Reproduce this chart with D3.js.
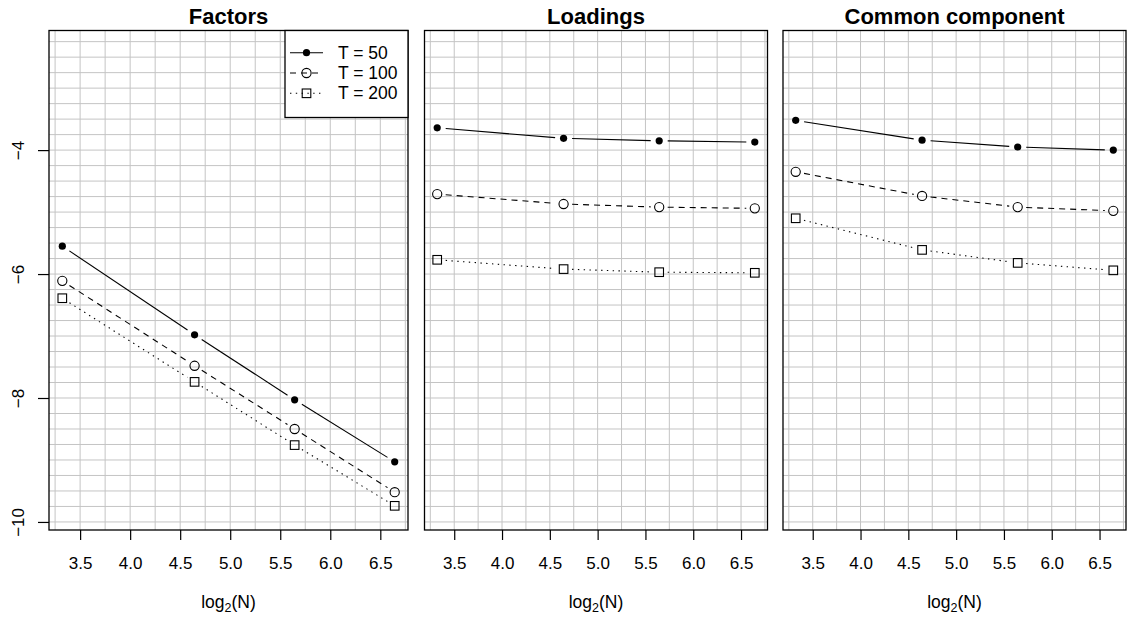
<!DOCTYPE html>
<html>
<head>
<meta charset="utf-8">
<script src="https://cdn.jsdelivr.net/npm/d3@7"></script>
<style>
  html, body { margin: 0; padding: 0; background: #fff; }
  svg { display: block; font-family: "Liberation Sans", Arial, Helvetica, sans-serif; }
</style>
</head>
<body>
<svg id="chart" width="1127" height="618"></svg>
<script>
// ---------------- data ----------------
const nValues = [10, 25, 50, 100];               // N (x = log2 N)
const seriesLabels = ["T = 50", "T = 100", "T = 200"];
const panelTitles = ["Factors", "Loadings", "Common component"];

// Factors panel (log error)
const factorsT50  = [-5.55, -6.98, -8.03, -9.03];
const factorsT100 = [-6.11, -7.48, -8.50, -9.52];
const factorsT200 = [-6.39, -7.74, -8.76, -9.74];
// Loadings panel
const loadingsT50  = [-3.64, -3.81, -3.85, -3.87];
const loadingsT100 = [-4.71, -4.87, -4.92, -4.94];
const loadingsT200 = [-5.77, -5.92, -5.97, -5.98];
// Common component panel
const commonT50  = [-3.52, -3.84, -3.95, -4.00];
const commonT100 = [-4.35, -4.74, -4.92, -4.98];
const commonT200 = [-5.10, -5.61, -5.82, -5.94];

const xTicks = [3.5, 4.0, 4.5, 5.0, 5.5, 6.0, 6.5];
const yTicks = [-4, -6, -8, -10];

// ---------------- layout ----------------
const svg = d3.select("#chart");
const panels = [
  { x0: 49,    x1: 408,   series: [factorsT50, factorsT100, factorsT200], yAxis: true, legend: true },
  { x0: 424.5, x1: 767.5, series: [loadingsT50, loadingsT100, loadingsT200] },
  { x0: 783,   x1: 1126,  series: [commonT50, commonT100, commonT200] }
];
const plotTop = 30.5, plotBottom = 530;
const xVals = nValues.map(n => Math.log2(n));
const xPad = (d3.max(xVals) - d3.min(xVals)) * 0.04;
const xDomain = [d3.min(xVals) - xPad, d3.max(xVals) + xPad];
const yDomain = [-10.13, -2.07];
const y = d3.scaleLinear().domain(yDomain).range([plotBottom, plotTop]);

const styles = [
  { dash: null,      marker: "dot" },
  { dash: "6,5",     marker: "circle" },
  { dash: "1.4,4.4", marker: "square" }
];
const gridColor = "#c4c4c4";
const fontMain = 17;

function drawMarker(g, type, cx, cy) {
  if (type === "dot") {
    g.append("circle").attr("cx", cx).attr("cy", cy).attr("r", 3.6).attr("fill", "#000");
  } else if (type === "circle") {
    g.append("circle").attr("cx", cx).attr("cy", cy).attr("r", 4.6)
      .attr("fill", "none").attr("stroke", "#000").attr("stroke-width", 1.1);
  } else {
    g.append("rect").attr("x", cx - 4.3).attr("y", cy - 4.3).attr("width", 8.6).attr("height", 8.6)
      .attr("fill", "none").attr("stroke", "#000").attr("stroke-width", 1.1);
  }
}

panels.forEach((p, pi) => {
  const x = d3.scaleLinear().domain(xDomain).range([p.x0, p.x1]);
  const g = svg.append("g");

  // grid (every 0.25 units)
  const gx = d3.range(Math.ceil(xDomain[0] * 4) / 4, xDomain[1], 0.25);
  const gy = d3.range(Math.ceil(yDomain[0] * 4) / 4, yDomain[1], 0.25);
  g.selectAll(".gv").data(gx).enter().append("line")
    .attr("x1", d => x(d)).attr("x2", d => x(d)).attr("y1", plotTop).attr("y2", plotBottom)
    .attr("stroke", gridColor).attr("stroke-width", 1);
  g.selectAll(".gh").data(gy).enter().append("line")
    .attr("x1", p.x0).attr("x2", p.x1).attr("y1", d => y(d)).attr("y2", d => y(d))
    .attr("stroke", gridColor).attr("stroke-width", 1);

  // series (type "b": lines with gaps around points)
  const gap = 8.5;
  p.series.forEach((vals, si) => {
    const st = styles[si];
    const pts = vals.map((v, i) => [x(xVals[i]), y(v)]);
    for (let i = 0; i < pts.length - 1; i++) {
      const [ax, ay] = pts[i], [bx, by] = pts[i + 1];
      const len = Math.hypot(bx - ax, by - ay);
      if (len <= 2 * gap) continue;
      const ux = (bx - ax) / len, uy = (by - ay) / len;
      g.append("line")
        .attr("x1", ax + ux * gap).attr("y1", ay + uy * gap)
        .attr("x2", bx - ux * gap).attr("y2", by - uy * gap)
        .attr("stroke", "#000").attr("stroke-width", 1.1)
        .attr("stroke-dasharray", st.dash);
    }
    pts.forEach(([cx, cy]) => drawMarker(g, st.marker, cx, cy));
  });

  // box
  g.append("rect").attr("x", p.x0).attr("y", plotTop).attr("width", p.x1 - p.x0).attr("height", plotBottom - plotTop)
    .attr("fill", "none").attr("stroke", "#000").attr("stroke-width", 1.3);

  // x axis
  const xa = g.append("g").attr("transform", `translate(0,${plotBottom})`)
    .call(d3.axisBottom(x).tickValues(xTicks).tickFormat(d3.format(".1f")).tickSize(10).tickPadding(17));
  xa.select(".domain").remove();
  xa.selectAll("line").attr("stroke", "#000").attr("stroke-width", 1.2);
  xa.selectAll("text").attr("font-size", fontMain).attr("fill", "#000")
    .attr("font-family", "'Liberation Sans', Arial, sans-serif");

  // x label with subscript
  const xl = g.append("text").attr("x", (p.x0 + p.x1) / 2).attr("y", 608)
    .attr("text-anchor", "middle").attr("font-size", 17.5).attr("fill", "#000");
  xl.append("tspan").text("log");
  xl.append("tspan").attr("font-size", 12.5).attr("dy", 4).text("2");
  xl.append("tspan").attr("dy", -4).text("(N)");

  // title
  g.append("text").attr("x", (p.x0 + p.x1) / 2).attr("y", 23.5)
    .attr("text-anchor", "middle").attr("font-size", 22).attr("font-weight", "bold")
    .attr("fill", "#000").text(panelTitles[pi]);

  // y axis
  if (p.yAxis) {
    const ya = g.append("g").attr("transform", `translate(${p.x0},0)`)
      .call(d3.axisLeft(y).tickValues(yTicks).tickFormat(d => d < 0 ? "\u2212" + Math.abs(d) : d).tickSize(11).tickPadding(0));
    ya.select(".domain").remove();
    ya.selectAll("line").attr("stroke", "#000").attr("stroke-width", 1.2);
    ya.selectAll("text").attr("font-size", fontMain).attr("fill", "#000")
      .attr("text-anchor", "middle")
      .attr("x", null).attr("dy", null)
      .attr("transform", "translate(-25.5,0) rotate(-90)");
  }

  // legend
  if (p.legend) {
    const lg = g.append("g");
    const lx0 = 285, ly0 = plotTop, lx1 = p.x1, ly1 = 117.5;
    lg.append("rect").attr("x", lx0).attr("y", ly0).attr("width", lx1 - lx0).attr("height", ly1 - ly0)
      .attr("fill", "#fff").attr("stroke", "#000").attr("stroke-width", 1.3);
    seriesLabels.forEach((lab, si) => {
      const cy = 52.7 + si * 20.3;
      lg.append("line").attr("x1", 290).attr("x2", 323).attr("y1", cy).attr("y2", cy)
        .attr("stroke", "#000").attr("stroke-width", 1.1).attr("stroke-dasharray", styles[si].dash);
      drawMarker(lg, styles[si].marker, 306.5, cy);
      lg.append("text").attr("x", 338).attr("y", cy + 6).attr("font-size", 17.5).attr("fill", "#000").text(lab);
    });
  }
});
</script>
</body>
</html>
